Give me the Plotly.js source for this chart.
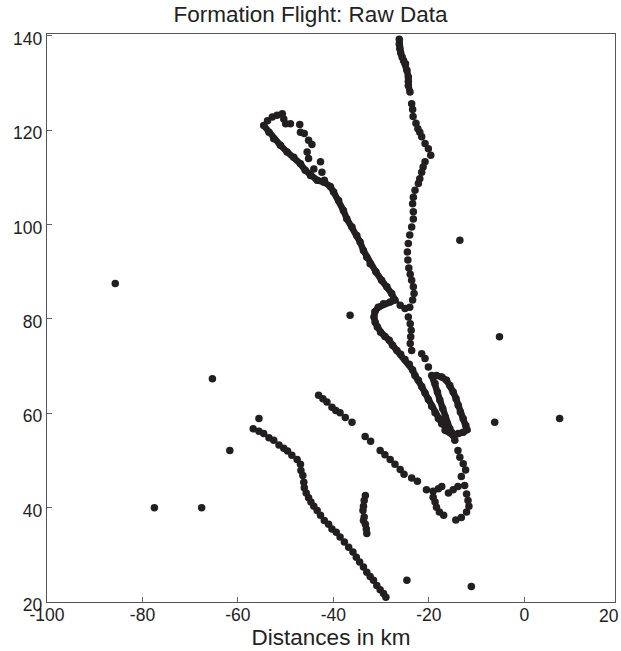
<!DOCTYPE html>
<html>
<head>
<meta charset="utf-8">
<script src="https://cdn.plot.ly/plotly-3.0.1.min.js"></script>
<style>html,body{margin:0;padding:0;background:#fff}</style>
</head>
<body>
<div id="chart" style="width:621px;height:651px"></div>
<script>
// ---- Tick labels ----
const xTickVals = [-100, -80, -60, -40, -20, 0];
const xTickText = ['-100', '-80', '-60', '-40', '-20', '0'];
const xEdgeLabel = '20';          // label drawn at the right end of the x axis
const yTickVals = [20, 40, 60, 80, 100, 120, 140];

// ---- Track: northern track, dense top section ----
const northTopX = [-26.2, -26.2, -26.1, -25.9, -25.6, -25.3, -24.9, -24.6, -24.3, -24.3, -24.3, -23.95];
const northTopY = [139.3, 138.3, 137.3, 136.4, 135.5, 134.8, 134.1, 132.7, 131.3, 130.4, 129.5, 128.1];

// ---- Track: northern track, dotted section ----
const northDotsX = [-23.6, -23.4, -23.3, -22.7, -22.3, -21.9, -21.5, -20.8, -20.1, -19.6, -20.8, -21.2, -21.5, -21.9, -22.2, -22.9, -23.25, -23.4, -23.25, -23.25, -23.6, -24.0, -24.3, -24.5, -24.4, -24.2, -23.9, -23.6, -23.25, -23.1, -23.4, -24.0, -26.0, -25.0, -24.3, -23.9, -23.7, -23.8, -23.9, -23.6, -21.5, -20.8, -20.1];
const northDotsY = [125.6, 124.4, 122.9, 121.5, 120.3, 119.6, 118.6, 117.2, 116.1, 114.7, 113.3, 112.2, 111.1, 109.7, 108.7, 107.3, 105.8, 104.4, 102.7, 101.2, 99.5, 97.8, 96.0, 94.2, 92.5, 90.8, 89.5, 88.2, 86.8, 85.4, 84.0, 82.5, 82.9, 82.2, 80.4, 79.0, 77.6, 76.2, 74.8, 73.3, 72.6, 71.6, 69.8];

// ---- Track: right line of the narrow loop ----
const narrowRightX = [-19.4, -18.7, -18.2, -17.7, -17.1, -16.6, -16.15, -15.6];
const narrowRightY = [68.0, 66.3, 64.5, 62.8, 61.0, 59.2, 57.8, 56.7];

// ---- Track: western track (NW diagonal, teardrop, narrow loop) ----
const westX = [-54.6, -53.5, -52.5, -51.1, -49.7, -48.3, -46.9, -45.9, -44.8, -43.4, -42.0, -40.65, -39.95, -38.9, -37.9, -37.2, -36.1, -35.1, -34.4, -33.7, -33.0, -32.3, -31.1, -29.9, -28.8, -27.8, -27.1, -28.1, -29.5, -30.6, -31.3, -31.5, -31.25, -30.8, -30.1, -29.2, -28.3, -27.6, -26.7, -25.9, -25.0, -24.1, -23.4, -22.9, -22.2, -21.5, -20.8, -20.1, -19.4, -18.7, -18.0, -17.3, -16.3, -15.25];
const westY = [121.0, 119.6, 118.2, 116.8, 115.4, 114.3, 112.9, 111.5, 110.4, 109.4, 109.0, 108.1, 106.9, 105.1, 103.0, 101.25, 99.5, 97.7, 96.3, 94.5, 93.1, 91.7, 90.0, 88.2, 86.8, 85.4, 84.0, 83.6, 83.2, 82.5, 81.5, 80.4, 79.3, 78.3, 77.2, 76.3, 75.5, 74.4, 73.3, 72.5, 71.4, 70.4, 69.2, 68.0, 67.0, 65.7, 64.3, 62.9, 61.5, 60.1, 58.9, 57.8, 57.0, 56.0];

// ---- Track: dotted loop at the NW end ----
const westLoopX = [-53.8, -52.8, -51.8, -50.7, -50.4, -50.0, -49.0, -47.05, -46.9, -46.1, -45.2, -44.5, -45.5, -45.2, -44.1, -42.7, -42.4, -41.9];
const westLoopY = [122.0, 122.8, 123.2, 123.5, 122.4, 121.4, 121.4, 121.2, 119.6, 119.3, 117.9, 117.0, 115.4, 114.0, 111.8, 113.3, 111.1, 109.4];

// ---- Track: outer elongated loop ----
const eastLoopX = [-18.4, -17.3, -16.3, -15.6, -14.9, -14.3, -13.85, -13.4, -12.8, -12.25, -12.0, -12.8, -13.85, -14.9, -16.6];
const eastLoopY = [68.0, 67.7, 67.0, 65.9, 64.5, 63.1, 61.7, 60.3, 58.85, 57.4, 56.5, 56.0, 55.7, 55.3, 56.4];

// ---- Track: southern tail ----
const tailX = [-14.55, -13.9, -13.5, -12.8, -12.3, -13.2, -12.5, -12.1, -11.8, -11.6, -12.1, -13.2, -14.35];
const tailY = [54.3, 52.1, 50.7, 49.3, 48.0, 46.6, 44.7, 42.9, 41.5, 40.3, 39.1, 37.9, 37.4];

// ---- Track: middle diagonal and small loop ----
const midX = [-43.1, -42.2, -41.35, -40.3, -39.5, -38.6, -37.5, -36.1, -33.35, -32.2, -30.2, -29.2, -28.1, -27.1, -26.0, -25.2, -23.6, -22.4, -20.5, -19.1, -18.0, -17.3, -15.9, -14.9, -13.9, -19.1, -18.7, -18.4, -17.8, -16.9];
const midY = [63.8, 63.1, 62.4, 61.3, 60.6, 60.1, 59.1, 58.1, 55.1, 54.1, 52.1, 51.2, 50.2, 49.2, 48.1, 47.1, 46.3, 45.6, 43.8, 43.5, 44.0, 44.5, 43.1, 43.8, 44.5, 42.2, 41.2, 40.1, 39.1, 38.4];

// ---- Track: short vertical segment ----
const shortX = [-33.3, -33.55, -33.7, -33.8, -33.55, -33.7, -33.3, -33.1, -33.0];
const shortY = [42.6, 41.5, 40.3, 39.4, 38.0, 37.3, 36.5, 35.5, 34.5];

// ---- Track: south-west long diagonal ----
const swX = [-56.8, -55.6, -54.6, -53.5, -52.5, -51.4, -50.4, -49.6, -48.7, -47.6, -46.9, -46.8, -46.4, -46.2, -46.1, -45.7, -45.2, -44.7, -44.1, -43.4, -42.7, -41.9, -41.0, -40.3, -39.4, -38.6, -37.7, -36.8, -35.9, -35.2, -34.5, -33.7, -33.0, -32.3, -31.6, -30.9, -30.2, -29.5, -29.0];
const swY = [56.7, 56.2, 55.7, 54.8, 54.3, 53.3, 52.6, 52.0, 51.1, 50.2, 49.2, 47.9, 46.8, 45.4, 44.2, 43.1, 42.1, 41.2, 40.3, 39.4, 38.4, 37.3, 36.5, 35.5, 34.8, 33.8, 32.7, 31.6, 30.6, 29.5, 28.5, 27.4, 26.3, 25.4, 24.6, 23.5, 22.6, 21.8, 21.0];

// ---- Isolated returns ----
const strayX = [-85.7, -65.35, -61.7, -77.5, -67.6, -55.6, -36.5, -13.5, -5.2, -6.2, 7.4, -24.6, -11.1];
const strayY = [87.5, 67.3, 52.1, 40.0, 40.0, 58.9, 80.8, 96.7, 76.2, 58.1, 58.9, 24.6, 23.3];

const INK = '#231f20';
const FONT = 'Liberation Sans, Arial, Helvetica, sans-serif';
const DOT = 7.5;

function dense(x, y) {
  return {x, y, type: 'scatter', mode: 'lines+markers',
    line: {color: INK, width: 6.5, shape: 'linear'},
    marker: {color: INK, size: DOT, line: {width: 0}}, hoverinfo: 'skip'};
}
function dots(x, y) {
  return {x, y, type: 'scatter', mode: 'markers',
    marker: {color: INK, size: DOT, line: {width: 0}}, hoverinfo: 'skip'};
}

const data = [
  dense(northTopX, northTopY),
  dots(northDotsX, northDotsY),
  dense(narrowRightX, narrowRightY),
  dense(westX, westY),
  dots(westLoopX, westLoopY),
  dense(eastLoopX, eastLoopY),
  dots(tailX, tailY),
  dots(midX, midY),
  dots(shortX, shortY),
  dots(swX, swY),
  dots(strayX, strayY)
];

const axisCommon = {
  ticks: 'inside', ticklen: 5, tickwidth: 1, tickcolor: '#666',
  showline: true, linecolor: '#555', linewidth: 1.3, mirror: true,
  showgrid: false, zeroline: false, ticklabeloverflow: 'allow',
  tickfont: {family: FONT, size: 17.5, color: '#222'}
};

const layout = {
  width: 621, height: 651,
  margin: {l: 47, r: 6, t: 34, b: 49, pad: 0},
  paper_bgcolor: '#ffffff', plot_bgcolor: '#ffffff',
  showlegend: false,
  title: {text: 'Formation Flight: Raw Data', font: {family: FONT, size: 22.5, color: '#222'},
          x: 0.5, xref: 'container', y: 0.978, yref: 'container', yanchor: 'middle'},
  xaxis: Object.assign({}, axisCommon, {
    range: [-100, 19], tickmode: 'array', tickvals: xTickVals, ticktext: xTickText,
    ticklabelstandoff: -3,
    title: {text: 'Distances in km', font: {family: FONT, size: 22.5, color: '#222'}, standoff: 4}
  }),
  yaxis: Object.assign({}, axisCommon, {
    range: [20, 140.4], tickmode: 'array', tickvals: yTickVals, ticklabelshift: 3
  }),
  annotations: [{
    text: xEdgeLabel, xref: 'paper', x: 0.989, yref: 'paper', y: 0,
    xanchor: 'center', yanchor: 'top', yshift: -2, showarrow: false,
    font: {family: FONT, size: 17.5, color: '#222'}
  }]
};

Plotly.newPlot('chart', data, layout, {displayModeBar: false, staticPlot: true});
</script>
</body>
</html>
